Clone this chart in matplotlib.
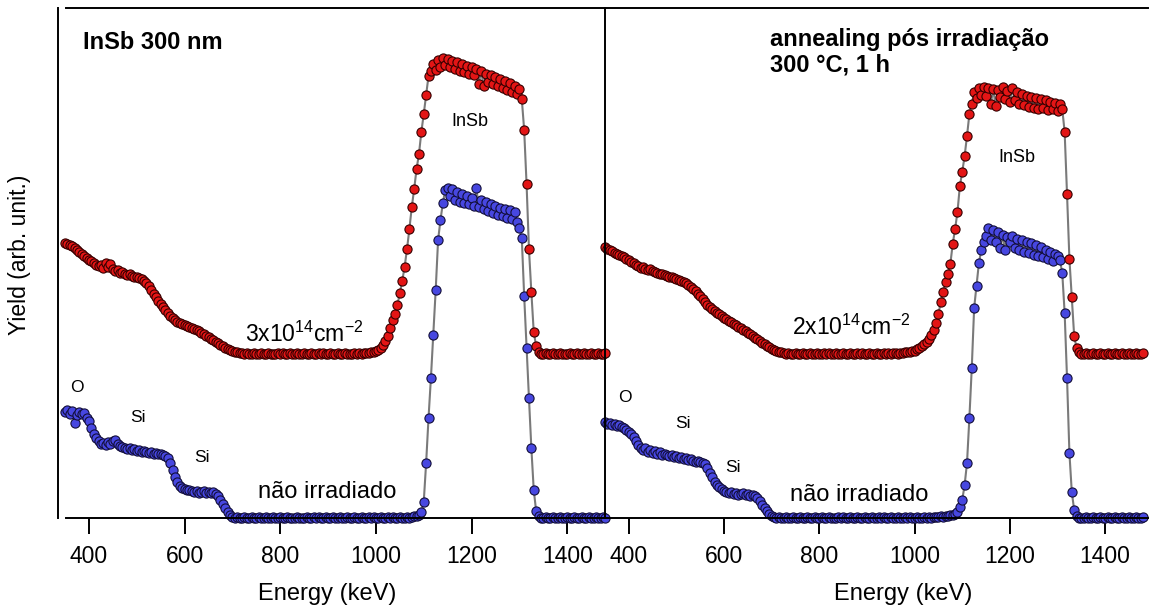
import numpy as np
import matplotlib
matplotlib.use("Agg")
import matplotlib.pyplot as plt

plt.rcParams['font.family'] = ['Liberation Sans', 'DejaVu Sans']
plt.rcParams['mathtext.fontset'] = 'custom'
plt.rcParams['mathtext.rm'] = 'Liberation Sans'
plt.rcParams['mathtext.it'] = 'Liberation Sans:italic'
plt.rcParams['mathtext.bf'] = 'Liberation Sans:bold'

# energy channels (keV), 5 keV apart
energy = np.arange(350, 1481, 5)

# non irradiated spectra (arb. units, baseline = 0)
blue_left = [
    106, 108, 104, 107, 95, 103, 106, 104, 105, 100,   # 350
    97, 90, 84, 80, 77, 74, 75, 73, 76, 74,            # 400
    77, 78, 74, 72, 71, 70, 69, 70, 68, 69,            # 450
    67, 68, 66, 67, 66, 65, 66, 64, 65, 64,            # 500
    64, 63, 62, 60, 55, 48, 41, 36, 32, 30,            # 550
    29, 28, 28, 27, 26, 27, 25, 26, 27, 25,            # 600
    26, 25, 26, 24, 22, 18, 14, 10, 6, 3,              # 650
    1, 0, 1, 0, 0, 1, 0, 0, 1, 0,                      # 700
    0, 1, 0, 0, 1, 0, 0, 1, 0, 0,                      # 750
    1, 0, 0, 1, 0, 0, 0, 1, 0, 0,                      # 800
    0, 1, 0, 0, 1, 0, 1, 0, 0, 1,                      # 850
    0, 0, 1, 0, 0, 1, 0, 0, 1, 0,                      # 900
    0, 1, 0, 0, 1, 0, 0, 1, 0, 1,                      # 950
    0, 0, 1, 0, 0, 1, 0, 1, 0, 0,                      # 1000
    1, 0, 0, 1, 0, 1, 2, 2, 3, 6,                      # 1050
    16, 55, 100, 140, 183, 228, 278, 298, 315, 328,    # 1100
    330, 322, 329, 318, 326, 316, 324, 315, 322, 314,  # 1150
    320, 312, 330, 311, 318, 309, 316, 307, 314, 305,  # 1200
    312, 303, 310, 302, 309, 300, 308, 299, 306, 296,  # 1250
    290, 280, 222, 170, 120, 70, 28, 7, 2, 0,          # 1300
    0, 1, 0, 0, 1, 0, 0, 1, 0, 0,                      # 1350
    1, 0, 0, 1, 0, 0, 1, 0, 0, 1,                      # 1400
    0, 0, 1, 0, 0, 1, 0,                               # 1450
]
blue_right = [
    96, 94, 95, 93, 94, 92, 93, 91, 90, 88,
    86, 84, 81, 77, 73, 70, 68, 70, 66, 68,
    65, 67, 64, 66, 63, 64, 63, 62, 63, 61,
    62, 60, 61, 59, 60, 58, 59, 57, 56, 57,
    56, 55, 54, 50, 45, 41, 36, 33, 31, 29,
    27, 26, 25, 26, 24, 25, 23, 24, 25, 23,
    24, 22, 23, 22, 20, 17, 13, 10, 7, 4,
    2, 1, 0, 1, 0, 0, 1, 0, 0, 1,
    0, 0, 1, 0, 0, 1, 0, 0, 1, 0,
    0, 1, 0, 0, 1, 0, 0, 0, 1, 0,
    1, 0, 0, 1, 0, 0, 1, 0, 0, 1,
    0, 0, 1, 0, 0, 1, 0, 1, 0, 0,
    1, 0, 0, 1, 0, 0, 1, 0, 1, 0,
    0, 1, 0, 0, 1, 0, 1, 0, 1, 1,
    1, 2, 1, 2, 2, 3, 3, 4, 6, 11,
    18, 33, 55, 100, 150, 210, 232, 255, 268, 276,
    282, 290, 278, 288, 276, 286, 270, 283, 268, 281,
    276, 282, 270, 279, 268, 278, 266, 276, 265, 275,
    263, 273, 262, 271, 261, 268, 259, 266, 257, 264,
    262, 258, 245, 205, 140, 65, 26, 8, 2, 0,
    0, 0, 1, 0, 0, 1, 0, 0, 1, 0,
    0, 1, 0, 0, 1, 0, 0, 1, 0, 0,
    1, 0, 0, 1, 0, 0, 1,
]

# irradiated spectra (arb. units, baseline = 0)
red_left = [
    111, 110, 109, 108, 106, 104, 102, 100, 98, 96,
    94, 93, 91, 89, 88, 89, 86, 91, 87, 90,
    85, 83, 84, 81, 82, 80, 79, 80, 78, 77,
    77, 76, 75, 73, 71, 68, 64, 60, 57, 53,
    50, 47, 44, 41, 38, 36, 34, 32, 31, 30,
    29, 28, 27, 26, 25, 24, 23, 21, 20, 18,
    17, 15, 14, 12, 11, 9, 8, 6, 5, 4,
    3, 2, 2, 1, 1, 0, 1, 0, 0, 1,
    0, 0, 1, 0, 0, 1, 0, 0, 0, 1,
    0, 1, 0, 0, 1, 0, 0, 1, 0, 0,
    1, 0, 0, 1, 0, 0, 1, 0, 1, 0,
    0, 1, 0, 0, 1, 0, 0, 1, 0, 0,
    0, 1, 0, 1, 0, 1, 1, 1, 2, 2,
    3, 4, 6, 9, 13, 18, 26, 34, 40, 49,
    61, 73, 87, 105, 125, 147, 165, 185, 200, 222,
    240, 259, 278, 283, 290, 284, 294, 287, 296, 289,
    295, 287, 293, 285, 292, 283, 290, 282, 288, 280,
    287, 279, 285, 270, 283, 268, 280, 272, 279, 270,
    277, 268, 275, 266, 273, 264, 271, 262, 268, 260,
    265, 255, 224, 170, 105, 62, 22, 8, 2, 0,
    0, 1, 0, 0, 1, 0, 0, 1, 0, 0,
    0, 1, 0, 0, 1, 0, 0, 1, 0, 0,
    1, 0, 0, 1, 0, 0, 1,
]
red_right = [
    107, 105, 104, 103, 101, 100, 99, 98, 97, 95,
    94, 92, 91, 89, 88, 86, 87, 85, 84, 85,
    83, 82, 81, 80, 80, 79, 78, 77, 77, 76,
    75, 74, 73, 72, 71, 69, 67, 65, 63, 60,
    58, 55, 52, 49, 47, 45, 43, 41, 40, 38,
    36, 35, 33, 32, 30, 29, 27, 26, 24, 23,
    21, 20, 18, 16, 15, 13, 11, 10, 8, 7,
    5, 4, 3, 2, 2, 1, 0, 1, 0, 0,
    1, 0, 0, 1, 0, 0, 1, 0, 0, 1,
    0, 0, 1, 0, 1, 0, 0, 1, 0, 0,
    1, 0, 0, 1, 0, 0, 1, 0, 1, 0,
    0, 1, 0, 0, 1, 0, 0, 1, 0, 1,
    0, 1, 1, 0, 1, 1, 2, 2, 2, 3,
    3, 5, 6, 8, 10, 12, 15, 19, 24, 31,
    40, 52, 62, 72, 80, 90, 110, 125, 142, 168,
    182, 198, 218, 240, 250, 262, 256, 266, 259, 267,
    258, 266, 250, 265, 248, 264, 257, 267, 255, 263,
    252, 266, 254, 262, 250, 260, 249, 258, 247, 257,
    246, 256, 245, 255, 246, 254, 244, 252, 245, 251,
    243, 250, 245, 222, 160, 95, 57, 18, 6, 2,
    0, 0, 1, 0, 0, 1, 0, 0, 1, 0,
    0, 1, 0, 0, 1, 0, 0, 1, 0, 0,
    1, 0, 0, 1, 0, 0, 1,
]

red_offset = 164
W, H = 1150, 612
fig = plt.figure(figsize=(W / 100, H / 100), dpi=100)
ax1 = fig.add_axes([66 / W, 1 - 518 / H, (605 - 66) / W, 510 / H])
ax2 = fig.add_axes([605 / W, 1 - 518 / H, (1148 - 605) / W, 510 / H])


def spectrum(ax, y, face, edge):
    ax.plot(energy, y, '-o', color='#7a7a7a', lw=1.5, ms=6.6,
            mfc=face, mec=edge, mew=0.8, clip_on=False)


for ax, blue, red in [(ax1, blue_left, red_left), (ax2, blue_right, red_right)]:
    spectrum(ax, np.array(blue), '#4747e0', '#120e3a')
    spectrum(ax, np.array(red) + red_offset, '#e31515', '#350000')
    ax.set_ylim(0, 510)
    ax.set_xticks([400, 600, 800, 1000, 1200, 1400])
    ax.tick_params(axis='x', direction='out', length=11.5, width=1.4,
                   labelsize=16.5, pad=8)
    ax.tick_params(axis='y', left=False, labelleft=False)
    ax.spines['right'].set_visible(False)
    for s in ['left', 'top', 'bottom']:
        ax.spines[s].set_linewidth(1.4)
    ax.set_xlabel('Energy (keV)', fontsize=17)
    ax.patch.set_alpha(0)

ax1.set_xlim(352, 1479)
ax2.set_xlim(350, 1490)
ax1.spines['left'].set_position(('outward', 6))
ax1.xaxis.set_label_coords(0.484, -0.128)
ax2.xaxis.set_label_coords(0.549, -0.128)

fig.text(20 / W, 1 - 255 / H, 'Yield (arb. unit.)', rotation=90,
         ha='center', va='center', fontsize=16.5)

# left panel labels
ax1.text(0.0315, 0.933, 'InSb 300 nm', transform=ax1.transAxes,
         fontsize=17, fontweight='bold', va='center')
ax1.text(1197, 396, 'InSb', fontsize=13, ha='center', va='center')
ax1.text(726, 176, r'3x10$^{14}$cm$^{-2}$', fontsize=16.5, va='baseline')
ax1.text(754, 26, 'não irradiado', fontsize=17, va='center')
ax1.text(375, 130, 'O', fontsize=12.5, ha='center', va='center')
ax1.text(502, 101, 'Si', fontsize=12.5, ha='center', va='center')
ax1.text(636, 60, 'Si', fontsize=12.5, ha='center', va='center')

# right panel labels
ax2.text(0.304, 0.913, 'annealing pós irradiação\n300 °C, 1 h',
         transform=ax2.transAxes, fontsize=17, fontweight='bold',
         va='center', linespacing=1.1)
ax2.text(1215, 360, 'InSb', fontsize=13, ha='center', va='center')
ax2.text(742, 183, r'2x10$^{14}$cm$^{-2}$', fontsize=16.5, va='baseline')
ax2.text(738, 23, 'não irradiado', fontsize=17, va='center')
ax2.text(392, 120, 'O', fontsize=12.5, ha='center', va='center')
ax2.text(513, 95, 'Si', fontsize=12.5, ha='center', va='center')
ax2.text(618, 51, 'Si', fontsize=12.5, ha='center', va='center')

fig.savefig('out.png', dpi=100)
